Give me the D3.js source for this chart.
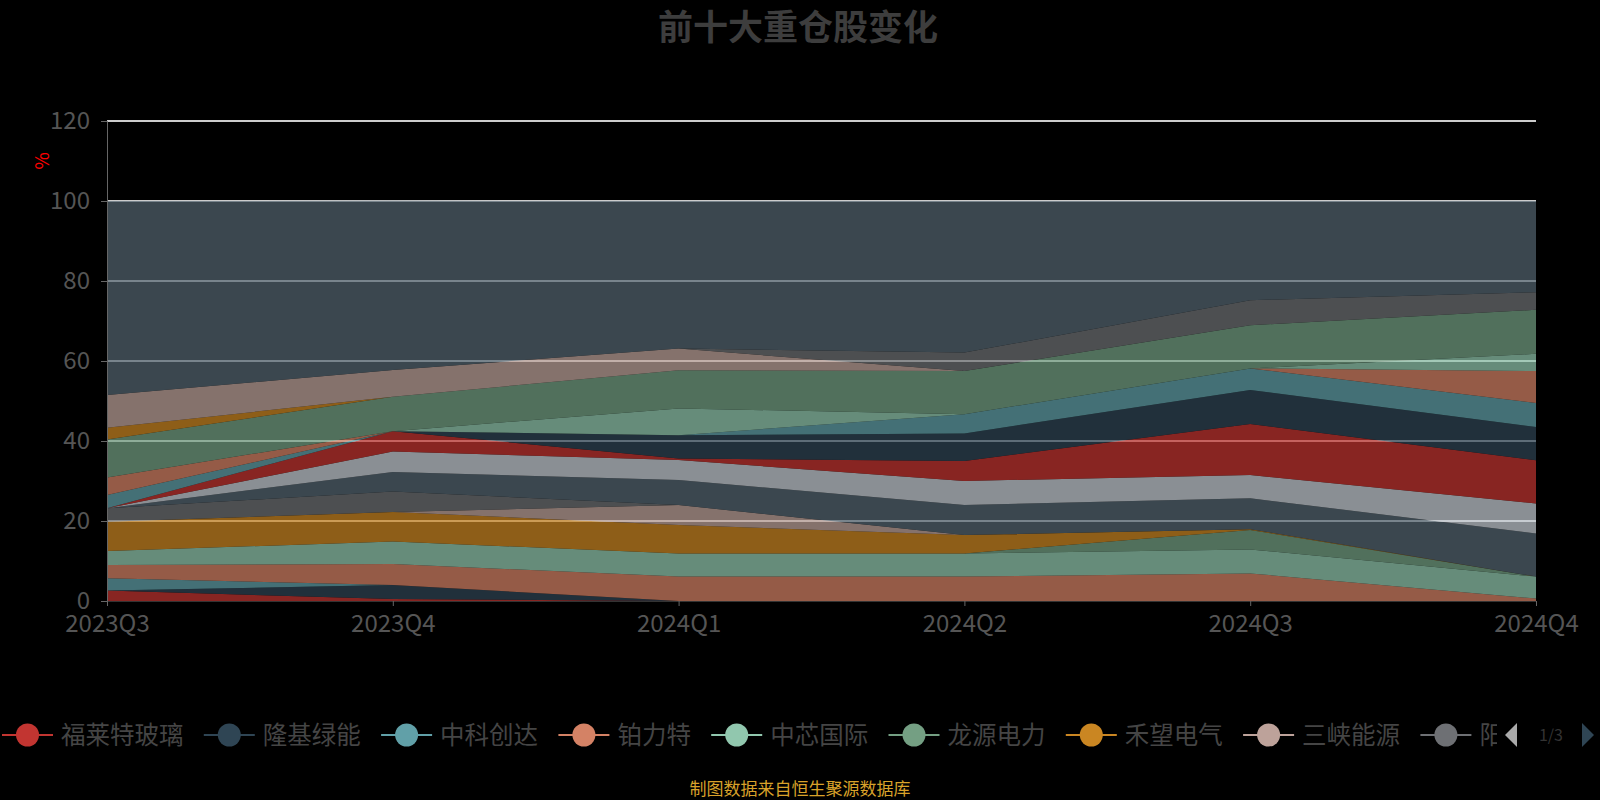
<!DOCTYPE html>
<html>
<head>
<meta charset="utf-8">
<script src="https://cdn.jsdelivr.net/npm/d3@7/dist/d3.min.js"></script>
<style>
  html, body { margin: 0; padding: 0; background: #000; }
  svg { display: block; }
  text { font-family: "Noto Sans CJK SC", "Liberation Sans", sans-serif; }
</style>
</head>
<body>
<svg id="chart" width="1600" height="800"></svg>
<script>
// quarters on the x axis
const quarters = ["2023Q3", "2023Q4", "2024Q1", "2024Q2", "2024Q3", "2024Q4"];

// stacked series, bottom to top (share of fund, %)
const stockNames = [
    "福莱特玻璃", "隆基绿能", "中科创达", "铂力特", "中芯国际", "龙源电力",
    "禾望电气", "三峡能源", "阳光电源", "宁德时代", "通威股份", "晶澳科技",
    "东方电缆", "明阳智能", "金风科技", "中环股份", "长江电力", "TCL中环",
    "华能国际", "国电南瑞", "其他"
];

const holdings = [
    [2.6, 0.5, 0, 0, 0, 0],          // 福莱特玻璃
    [0, 3.5, 0, 0, 0, 0],            // 隆基绿能
    [3.1, 0, 0, 0, 0, 0],            // 中科创达
    [3.3, 5.25, 6.1, 6.1, 6.9, 0.6], // 铂力特
    [3.5, 5.6, 5.8, 5.8, 6.0, 5.5],  // 中芯国际
    [0, 0, 0, 0, 4.85, 0],           // 龙源电力
    [7.3, 7.4, 7.1, 4.6, 0.2, 0],    // 禾望电气
    [0, 0, 5.0, 0, 0, 0],            // 三峡能源
    [3.4, 5.1, 0, 0, 0, 0],
    [0, 4.9, 6.25, 7.5, 7.75, 10.8],
    [0, 5.1, 5.0, 6.0, 5.8, 7.5],
    [0, 5.1, 0.4, 5.0, 12.75, 10.8],
    [0, 0, 5.8, 6.9, 8.5, 8.3],
    [3.3, 0, 0, 4.8, 5.4, 6.0],
    [4.4, 0, 0, 0, 0, 8.0],
    [0, 0, 6.7, 0, 0, 4.3],
    [9.5, 8.6, 9.55, 10.8, 10.8, 11.0],
    [2.9, 0, 0, 0, 0, 0],
    [8.2, 6.7, 5.4, 0, 0, 0],
    [0, 0, 0, 4.6, 6.25, 4.4],
    [48.5, 42.3, 36.9, 37.9, 24.8, 22.8] // 其他
];

const yTicks = [0, 20, 40, 60, 80, 100, 120];

const palette = ["#c23531", "#2f4554", "#61a0a8", "#d48265", "#91c7ae", "#749f83",
                 "#ca8622", "#bda29a", "#6e7074", "#546570", "#c4ccd3"];

const svg = d3.select("#chart");
const plot = { left: 107, right: 1536, top: 121, bottom: 601 };

const x = d3.scalePoint().domain(quarters).range([plot.left, plot.right]);
const y = d3.scaleLinear().domain([0, 120]).range([plot.bottom, plot.top]);

// title
svg.append("text")
    .attr("x", 798).attr("y", 40)
    .attr("text-anchor", "middle")
    .attr("font-size", 35).attr("font-weight", "bold")
    .attr("fill", "#3d3d3d")
    .text("前十大重仓股变化");

// split lines under the areas
svg.append("g")
    .selectAll("line")
    .data(yTicks.filter(d => d > 0))
    .join("line")
    .attr("x1", plot.left).attr("x2", plot.right)
    .attr("y1", d => y(d)).attr("y2", d => y(d))
    .attr("stroke", "#cccccc")
    .attr("stroke-width", 2);

// stacked areas
const rows = quarters.map((q, i) => {
    const r = { quarter: q };
    stockNames.forEach((n, j) => { r[n] = holdings[j][i]; });
    return r;
});
const stacked = d3.stack().keys(stockNames)(rows);

const area = d3.area()
    .x(d => x(d.data.quarter))
    .y0(d => y(d[0]))
    .y1(d => y(d[1]));

svg.append("g")
    .selectAll("path")
    .data(stacked)
    .join("path")
    .attr("d", area)
    .attr("fill", (d, i) => palette[i % palette.length])
    .attr("fill-opacity", 0.7);

// y axis
const yAxis = svg.append("g")
    .attr("transform", `translate(${plot.left},0)`)
    .call(d3.axisLeft(y).tickValues(yTicks).tickSize(6).tickPadding(11));
yAxis.select(".domain").attr("stroke", "#666");
yAxis.selectAll(".tick line").attr("stroke", "#666");
yAxis.selectAll(".tick text")
    .attr("font-size", 24)
    .attr("font-family", "Noto Sans CJK SC, sans-serif")
    .attr("fill", "#555");

// x axis
const xAxis = svg.append("g")
    .attr("transform", `translate(0,${plot.bottom})`)
    .call(d3.axisBottom(x).tickSize(5).tickPadding(9));
xAxis.select(".domain").attr("stroke", "#333");
xAxis.selectAll(".tick line").attr("stroke", "#666");
xAxis.selectAll(".tick text")
    .attr("font-size", 24)
    .attr("font-family", "Noto Sans CJK SC, sans-serif")
    .attr("fill", "#555");

// y axis name
svg.append("text")
    .attr("transform", "translate(49,161) rotate(-90)")
    .attr("text-anchor", "middle")
    .attr("font-size", 19)
    .attr("fill", "#ff0000")
    .text("%");

// scroll legend, first page
svg.append("clipPath").attr("id", "legendClip")
    .append("rect").attr("x", 0).attr("y", 700).attr("width", 1497).attr("height", 70);

const legend = svg.append("g").attr("clip-path", "url(#legendClip)");
const legendY = 735;
let lx = 2;
stockNames.slice(0, 9).forEach((name, i) => {
    const c = palette[i % palette.length];
    const g = legend.append("g").attr("transform", `translate(${lx},${legendY})`);
    g.append("line").attr("x1", 0).attr("x2", 51).attr("y1", 0).attr("y2", 0)
        .attr("stroke", c).attr("stroke-width", 2);
    g.append("circle").attr("cx", 25.5).attr("cy", 0).attr("r", 11.5).attr("fill", c);
    const t = g.append("text").attr("x", 59).attr("y", 0).attr("dy", "0.35em")
        .attr("font-size", 24.5).attr("fill", "#454545").text(name);
    lx += 59 + t.node().getComputedTextLength() + 20.3;
});

// pager
svg.append("path")
    .attr("d", "M1517,723 L1505,735 L1517,747 Z")
    .attr("fill", "#aaa");
svg.append("text")
    .attr("x", 1551).attr("y", 735).attr("dy", "0.35em")
    .attr("text-anchor", "middle").attr("font-size", 16).attr("fill", "#333")
    .text("1/3");
svg.append("path")
    .attr("d", "M1582,723 L1594,735 L1582,747 Z")
    .attr("fill", "#2f4554");

// source note
svg.append("text")
    .attr("x", 800).attr("y", 795)
    .attr("text-anchor", "middle")
    .attr("font-size", 17)
    .attr("fill", "#d9a22a")
    .text("制图数据来自恒生聚源数据库");
</script>
</body>
</html>
